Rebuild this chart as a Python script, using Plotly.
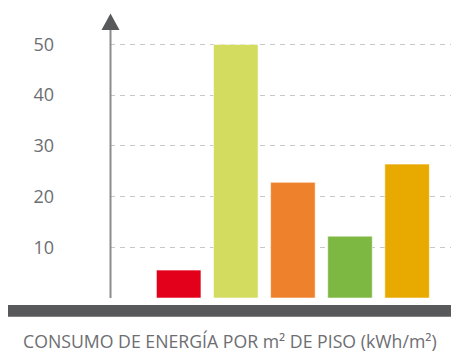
import plotly.graph_objects as go

# Energy use per square metre of floor, one bar per building group
categories = ["G1", "G2", "G3", "G4", "G5"]
values = [5.5, 50, 22.8, 12.2, 26.4]
colors = ["#e2001a", "#d3dc5e", "#ee812b", "#7cb842", "#e8aa00"]
tick_values = [10, 20, 30, 40, 50]
tick_labels = ["10", "20", "30", "40", "50"]
caption = "CONSUMO DE ENERGÍA POR m² DE PISO (kWh/m²)"

W, H = 451, 352
ML, MR, MT, MB = 110, 0, 14, 54
plot_w = W - ML - MR
plot_h = H - MT - MB


def px_x(p):
    return (p - ML) / plot_w


def px_y(p):
    return (H - MB - p) / plot_h


fig = go.Figure(
    go.Bar(
        x=categories,
        y=values,
        width=0.78,
        marker=dict(color=colors, line=dict(color="rgba(255,255,255,0.55)", width=1)),
        hoverinfo="skip",
    )
)

grey_text = "#6d6e71"

fig.update_layout(
    width=W,
    height=H,
    margin=dict(l=ML, r=MR, t=MT, b=MB, pad=0),
    paper_bgcolor="white",
    plot_bgcolor="white",
    showlegend=False,
    font=dict(family="Open Sans", color=grey_text),
    xaxis=dict(
        type="category",
        range=[-1.203, 4.769],
        showticklabels=False,
        showgrid=False,
        zeroline=False,
        showline=False,
        ticks="",
    ),
    yaxis=dict(
        range=[0, 56],
        tickvals=tick_values,
        ticktext=tick_labels,
        tickfont=dict(size=18, color=grey_text),
        ticklabelstandoff=55,
        showgrid=True,
        gridcolor="#c8c8c8",
        gridwidth=1.3,
        griddash="5px,5px",
        zeroline=False,
        showline=False,
        ticks="",
    ),
    shapes=[
        # vertical value axis
        dict(type="line", xref="paper", yref="paper",
             x0=px_x(110.5), x1=px_x(110.5), y0=px_y(298), y1=px_y(29),
             line=dict(color="#8c8c8c", width=2), layer="above"),
        # arrow head on top of the axis
        dict(type="path", xref="paper", yref="paper",
             path=(f"M {px_x(101.5)} {px_y(30)} L {px_x(119.5)} {px_y(30)} "
                   f"L {px_x(110.5)} {px_y(13.5)} Z"),
             fillcolor="#58595b", line=dict(width=0), layer="above"),
        # dark base band under the bars
        dict(type="rect", xref="paper", yref="paper",
             x0=px_x(8), x1=px_x(W + 2), y0=px_y(316.7), y1=px_y(305),
             fillcolor="#58595b", line=dict(width=0), layer="above"),
    ],
    annotations=[
        dict(text=caption, xref="paper", yref="paper",
             x=px_x(230), y=px_y(341), xanchor="center", yanchor="middle",
             showarrow=False, font=dict(size=17.7, color=grey_text)),
    ],
)

fig.write_html("out.html")
